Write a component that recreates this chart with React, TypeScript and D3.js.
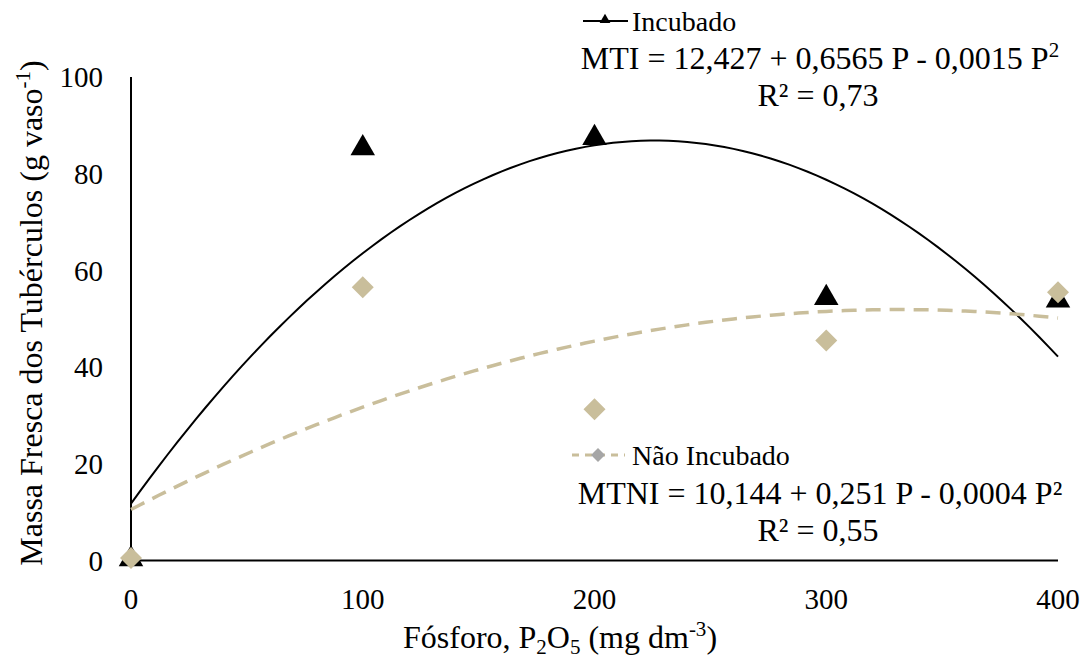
import React from "react";
import * as d3 from "d3";

const doses = [0, 100, 200, 300, 400];
const incubado = [0.5, 85.5, 87.6, 54.5, 54];
const naoIncubado = [0.5, 56.5, 31.3, 45.5, 55.5];
const xTicks = [0, 100, 200, 300, 400];
const yTicks = [0, 20, 40, 60, 80, 100];

const FONT = "'Liberation Serif', 'Times New Roman', serif";
const TAN = "#c9be9b";

function quadFit(xs: number[], ys: number[]) {
  // least squares y = a + b x + c x^2
  let s0 = 0, s1 = 0, s2 = 0, s3 = 0, s4 = 0, t0 = 0, t1 = 0, t2 = 0;
  xs.forEach((x, i) => {
    const y = ys[i];
    s0 += 1; s1 += x; s2 += x * x; s3 += x ** 3; s4 += x ** 4;
    t0 += y; t1 += x * y; t2 += x * x * y;
  });
  const M = [
    [s0, s1, s2, t0],
    [s1, s2, s3, t1],
    [s2, s3, s4, t2],
  ];
  for (let i = 0; i < 3; i++) {
    for (let k = i + 1; k < 3; k++) {
      const f = M[k][i] / M[i][i];
      for (let j = i; j < 4; j++) M[k][j] -= f * M[i][j];
    }
  }
  const r = [0, 0, 0];
  for (let i = 2; i >= 0; i--) {
    let s = M[i][3];
    for (let j = i + 1; j < 3; j++) s -= M[i][j] * r[j];
    r[i] = s / M[i][i];
  }
  return (x: number) => r[0] + r[1] * x + r[2] * x * x;
}

export default function App() {
  const W = 1086, H = 661;
  const x = d3.scaleLinear().domain([0, 400]).range([131, 1058]);
  const y = d3.scaleLinear().domain([0, 100]).range([560.5, 77]);

  const fI = quadFit(doses, incubado);
  const fN = quadFit(doses, naoIncubado);
  const samples = d3.range(0, 400.001, 4);
  const line = d3.line<number>().x((d) => x(d[0])).y((d) => y(d[1]));
  const pathI = line(samples.map((p) => [p, fI(p)] as any) as any);
  const pathN = line(samples.map((p) => [p, fN(p)] as any) as any);

  const tri = d3.symbol().type(d3.symbolTriangle).size(260)();
  const triSmall = d3.symbol().type(d3.symbolTriangle).size(50)();
  const dia = (s: number) => `M0,${-s}L${s},0L0,${s}L${-s},0Z`;

  return (
    <svg width={W} height={H} style={{ position: "absolute", left: 0, top: 0 }} fontFamily={FONT}>
      <rect width={W} height={H} fill="#fff" />
      {/* axes */}
      <line x1={x(0)} x2={x(0)} y1={y(0)} y2={y(100)} stroke="#000" strokeWidth={2} />
      <line x1={x(0)} x2={x(400)} y1={y(0)} y2={y(0)} stroke="#000" strokeWidth={2} />
      {yTicks.map((t) => (
        <text key={t} x={103} y={y(t)} dy="0.35em" textAnchor="end" fontSize={29} fill="#000">
          {t}
        </text>
      ))}
      {xTicks.map((t) => (
        <text key={t} x={x(t)} y={609} textAnchor="middle" fontSize={29} fill="#000">
          {t}
        </text>
      ))}
      {/* axis titles */}
      <text
        transform={`translate(42,313) rotate(-90)`}
        textAnchor="middle"
        fontSize={32}
        fill="#000"
      >
        Massa Fresca dos Tubérculos (g vaso
        <tspan fontSize={21} dy={-12}>-1</tspan>
        <tspan dy={12}>)</tspan>
      </text>
      <text x={560} y={648} textAnchor="middle" fontSize={32} fill="#000">
        Fósforo, P<tspan fontSize={21} dy={6}>2</tspan>
        <tspan dy={-6}>O</tspan>
        <tspan fontSize={21} dy={6}>5</tspan>
        <tspan dy={-6}> (mg dm</tspan>
        <tspan fontSize={21} dy={-12}>-3</tspan>
        <tspan dy={12}>)</tspan>
      </text>
      {/* trend lines */}
      <path d={pathI || ""} fill="none" stroke="#000" strokeWidth={2} />
      <path d={pathN || ""} fill="none" stroke={TAN} strokeWidth={3.5} strokeDasharray="15,9" />
      {/* markers */}
      {doses.map((d, i) => (
        <path key={"i" + i} d={tri || ""} transform={`translate(${x(d)},${y(incubado[i]) + 1})`} fill="#000" />
      ))}
      {doses.map((d, i) => (
        <path key={"n" + i} d={dia(11)} transform={`translate(${x(d)},${y(naoIncubado[i])})`} fill={TAN} />
      ))}
      {/* legend top */}
      <line x1={583} x2={628} y1={21} y2={21} stroke="#000" strokeWidth={2} />
      <path d={triSmall || ""} transform="translate(605,20)" fill="#000" />
      <text x={632} y={21} dy="0.35em" fontSize={28} fill="#000">Incubado</text>
      <text x={820} y={58} dy="0.35em" textAnchor="middle" fontSize={32} fill="#000">
        MTI = 12,427 + 0,6565 P - 0,0015 P<tspan fontSize={21} dy={-12}>2</tspan>
      </text>
      <text x={818} y={95} dy="0.35em" textAnchor="middle" fontSize={32} fill="#000">
        R² = 0,73
      </text>
      {/* legend bottom */}
      <line x1={572} x2={625} y1={455} y2={455} stroke={TAN} strokeWidth={3} strokeDasharray="7,6" />
      <path d={dia(7)} transform="translate(598,455)" fill="#a6a6a6" />
      <text x={632} y={455} dy="0.35em" fontSize={28} fill="#000">Não Incubado</text>
      <text x={820} y={493} dy="0.35em" textAnchor="middle" fontSize={32} fill="#000">
        MTNI = 10,144 + 0,251 P - 0,0004 P²
      </text>
      <text x={818} y={530} dy="0.35em" textAnchor="middle" fontSize={32} fill="#000">
        R² = 0,55
      </text>
    </svg>
  );
}
